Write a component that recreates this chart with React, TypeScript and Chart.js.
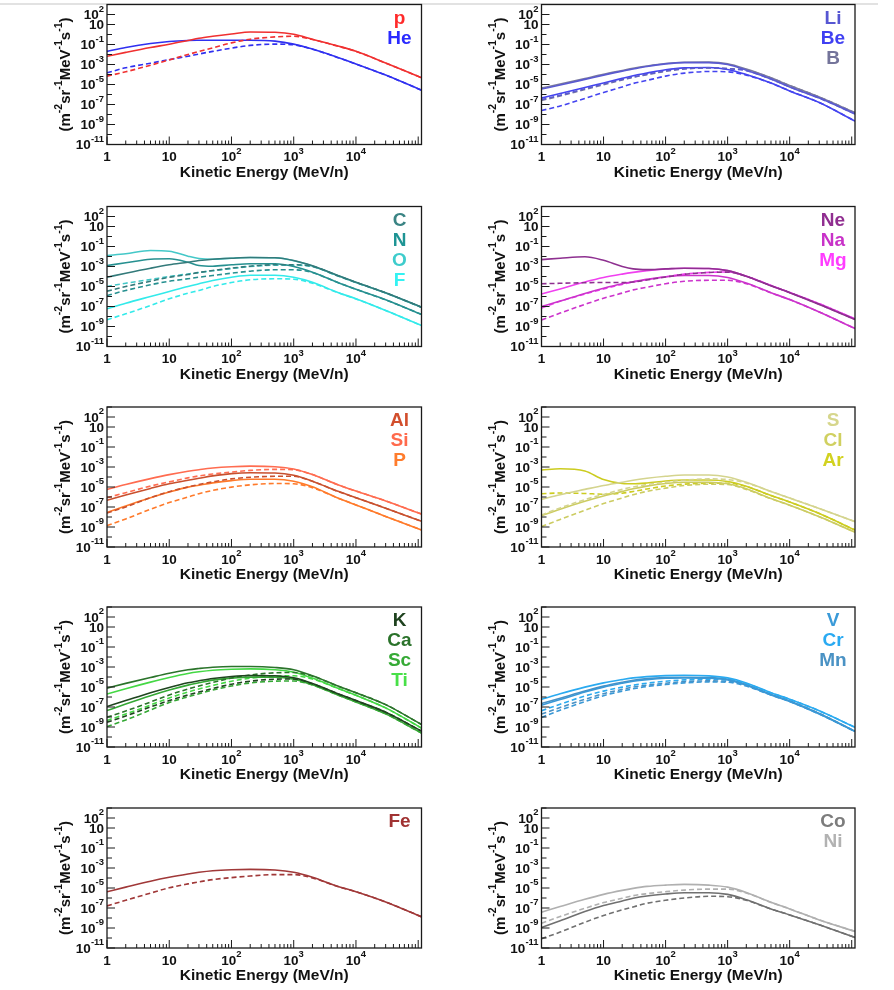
import React, { useEffect, useRef } from 'react';
import { Chart, registerables } from 'chart.js';
Chart.register(...registerables);

// Kinetic energy grid (MeV/n)
const energies = [1, 2, 5, 10, 20, 30, 50, 100, 200, 500, 1000, 2000, 5000, 10000, 30000, 113000];

// All flux values are log10 of (m^-2 sr^-1 MeV^-1 s^-1).
// Panel 1: p, He
const pSolid = [-2.18, -1.79, -1.3, -0.97, -0.6, -0.38, -0.18, 0.05, 0.25, 0.22, 0.03, -0.47, -1.13, -1.68, -2.85, -4.32];
const pDashed = [-4.16, -3.73, -3.07, -2.54, -2.0, -1.7, -1.34, -0.84, -0.47, -0.24, -0.17, -0.5, -1.15, -1.69, -2.85, -4.32];
const heSolid = [-1.69, -1.3, -0.9, -0.7, -0.6, -0.58, -0.57, -0.57, -0.57, -0.66, -0.96, -1.46, -2.28, -2.94, -4.06, -5.57];
const heDashed = [-3.83, -3.33, -2.87, -2.51, -2.18, -1.95, -1.69, -1.36, -1.09, -0.96, -1.03, -1.47, -2.29, -2.95, -4.06, -5.57];
// Panel 2: Li, Be, B
const liSolid = [-5.45, -5.05, -4.49, -4.06, -3.66, -3.45, -3.2, -2.94, -2.81, -2.81, -3.0, -3.57, -4.45, -5.24, -6.36, -7.94];
const beSolid = [-6.36, -5.9, -5.3, -4.85, -4.39, -4.12, -3.86, -3.53, -3.34, -3.3, -3.5, -4.0, -4.85, -5.64, -6.8, -8.66];
const bSolid = [-5.35, -4.95, -4.4, -3.98, -3.6, -3.38, -3.15, -2.9, -2.78, -2.76, -2.92, -3.45, -4.33, -5.1, -6.25, -7.82];
const liDashed = [-6.5, -6.08, -5.43, -4.95, -4.5, -4.25, -3.98, -3.64, -3.42, -3.33, -3.42, -3.62, -4.46, -5.24, -6.36, -7.94];
const beDashed = [-7.6, -7.15, -6.39, -5.8, -5.24, -4.9, -4.59, -4.16, -3.86, -3.7, -3.73, -4.06, -4.86, -5.64, -6.8, -8.66];
const bDashed = [-6.6, -6.15, -5.5, -5.02, -4.55, -4.28, -4.02, -3.68, -3.45, -3.35, -3.42, -3.55, -4.34, -5.1, -6.25, -7.82];
// Panel 3: C, N, O, F
const cSolid = [-4.07, -3.67, -3.17, -2.83, -2.57, -2.4, -2.27, -2.17, -2.1, -2.13, -2.4, -2.93, -3.87, -4.57, -5.63, -7.07];
const nSolid = [-2.9, -2.63, -2.27, -2.23, -2.57, -2.9, -2.97, -2.83, -2.73, -2.73, -3.0, -3.57, -4.57, -5.27, -6.33, -7.8];
const oSolid = [-1.9, -1.73, -1.4, -1.47, -1.97, -2.2, -2.27, -2.17, -2.1, -2.13, -2.42, -2.95, -3.89, -4.59, -5.64, -7.08];
const fSolid = [-7.23, -6.67, -6.0, -5.5, -5.0, -4.73, -4.4, -4.07, -3.87, -3.87, -4.07, -4.57, -5.57, -6.23, -7.4, -8.9];
const cDashed = [-5.47, -5.0, -4.47, -4.07, -3.8, -3.6, -3.4, -3.17, -2.97, -2.83, -2.83, -3.0, -3.9, -4.58, -5.63, -7.07];
const nDashed = [-5.9, -5.4, -4.83, -4.47, -4.23, -4.07, -3.9, -3.67, -3.47, -3.33, -3.33, -3.6, -4.58, -5.28, -6.33, -7.8];
const oDashed = [-5.0, -4.67, -4.3, -4.0, -3.75, -3.6, -3.42, -3.2, -3.0, -2.87, -2.87, -3.02, -3.92, -4.6, -5.64, -7.08];
const fDashed = [-8.33, -7.73, -6.9, -6.23, -5.67, -5.4, -5.0, -4.6, -4.33, -4.23, -4.27, -4.67, -5.6, -6.24, -7.4, -8.9];
// Panel 4: Ne, Na, Mg
const neSolid = [-2.31, -2.17, -2.03, -2.38, -3.0, -3.24, -3.31, -3.24, -3.17, -3.2, -3.41, -3.97, -4.93, -5.62, -6.79, -8.3];
const naSolid = [-7.0, -6.45, -5.69, -5.17, -4.72, -4.52, -4.28, -4.03, -3.9, -3.9, -4.1, -4.66, -5.62, -6.31, -7.55, -9.2];
const mgSolid = [-5.76, -5.24, -4.55, -4.1, -3.76, -3.59, -3.41, -3.24, -3.17, -3.2, -3.41, -3.97, -4.9, -5.59, -6.72, -8.24];
const neDashed = [-4.72, -4.68, -4.62, -4.6, -4.6, -4.55, -4.35, -4.05, -3.78, -3.6, -3.56, -3.98, -4.92, -5.6, -6.78, -8.28];
const naDashed = [-8.34, -7.66, -6.79, -6.17, -5.66, -5.34, -5.07, -4.72, -4.48, -4.38, -4.38, -4.72, -5.64, -6.31, -7.55, -9.2];
const mgDashed = [-7.14, -6.48, -5.76, -5.24, -4.79, -4.55, -4.31, -4.03, -3.76, -3.59, -3.55, -3.97, -4.9, -5.59, -6.72, -8.24];
// Panel 5: Al, Si, P
const alSolid = [-6.33, -5.8, -5.14, -4.68, -4.32, -4.13, -3.89, -3.66, -3.57, -3.6, -3.83, -4.42, -5.41, -6.07, -7.12, -8.43];
const siSolid = [-5.24, -4.75, -4.16, -3.76, -3.43, -3.27, -3.1, -2.97, -2.91, -2.97, -3.2, -3.76, -4.75, -5.41, -6.39, -7.71];
const phSolid = [-7.55, -6.89, -6.07, -5.51, -5.01, -4.82, -4.59, -4.36, -4.22, -4.22, -4.42, -4.98, -6.07, -6.79, -7.94, -9.29];
const alDashed = [-7.6, -7.0, -6.07, -5.47, -5.0, -4.75, -4.49, -4.19, -4.03, -3.93, -3.93, -4.43, -5.42, -6.07, -7.12, -8.43];
const siDashed = [-6.07, -5.57, -4.91, -4.49, -4.09, -3.89, -3.7, -3.5, -3.34, -3.24, -3.27, -3.76, -4.75, -5.41, -6.39, -7.71];
const phDashed = [-8.86, -8.2, -7.22, -6.56, -6.0, -5.67, -5.34, -5.01, -4.78, -4.65, -4.68, -5.07, -6.08, -6.79, -7.94, -9.29];
// Panel 6: S, Cl, Ar
const sSolid = [-6.23, -5.77, -5.24, -4.85, -4.52, -4.32, -4.13, -3.93, -3.8, -3.8, -4.0, -4.52, -5.44, -6.1, -7.15, -8.47];
const clSolid = [-7.88, -7.22, -6.43, -5.9, -5.44, -5.18, -4.91, -4.65, -4.52, -4.52, -4.68, -5.18, -6.16, -6.82, -7.97, -9.52];
const arSolid = [-3.3, -3.17, -3.4, -4.25, -4.65, -4.68, -4.6, -4.4, -4.3, -4.3, -4.45, -4.92, -5.85, -6.5, -7.65, -9.3];
const sDashed = [-7.8, -7.09, -6.26, -5.74, -5.24, -5.0, -4.75, -4.52, -4.32, -4.19, -4.26, -4.59, -5.45, -6.1, -7.15, -8.47];
const clDashed = [-8.96, -8.24, -7.32, -6.66, -6.1, -5.77, -5.44, -5.11, -4.85, -4.72, -4.75, -5.24, -6.17, -6.82, -7.97, -9.52];
const arDashed = [-5.67, -5.6, -5.65, -5.72, -5.62, -5.45, -5.2, -4.9, -4.72, -4.62, -4.62, -4.95, -5.86, -6.5, -7.65, -9.3];
// Panel 7: K, Ca, Sc, Ti
const kSolid = [-6.96, -6.36, -5.57, -5.04, -4.58, -4.38, -4.15, -3.95, -3.85, -3.88, -4.08, -4.64, -5.64, -6.36, -7.52, -9.41];
const caSolid = [-5.11, -4.64, -4.05, -3.62, -3.28, -3.15, -3.02, -2.95, -2.95, -3.05, -3.28, -3.88, -4.87, -5.57, -6.76, -8.75];
const scSolid = [-7.36, -6.7, -5.87, -5.3, -4.81, -4.58, -4.31, -4.11, -4.01, -4.01, -4.21, -4.77, -5.77, -6.5, -7.69, -9.61];
const tiSolid = [-5.7, -5.17, -4.51, -4.05, -3.65, -3.48, -3.32, -3.22, -3.19, -3.28, -3.52, -4.11, -5.11, -5.83, -7.09, -9.11];
const kDashed = [-8.52, -7.9, -7.0, -6.36, -5.8, -5.5, -5.15, -4.72, -4.42, -4.22, -4.2, -4.68, -5.65, -6.36, -7.52, -9.41];
const caDashed = [-8.02, -7.4, -6.5, -5.8, -5.2, -4.9, -4.55, -4.1, -3.8, -3.58, -3.55, -3.92, -4.88, -5.57, -6.76, -8.75];
const scDashed = [-8.95, -8.3, -7.3, -6.55, -5.98, -5.67, -5.3, -4.9, -4.6, -4.42, -4.4, -4.8, -5.78, -6.5, -7.69, -9.61];
const tiDashed = [-8.35, -7.7, -6.8, -6.1, -5.5, -5.2, -4.85, -4.42, -4.12, -3.9, -3.88, -4.2, -5.12, -5.83, -7.09, -9.11];
// Panel 8: V, Cr, Mn
const vSolid = [-6.82, -6.26, -5.5, -5.01, -4.62, -4.42, -4.26, -4.12, -4.09, -4.12, -4.29, -4.82, -5.8, -6.46, -7.71, -9.45];
const crSolid = [-6.23, -5.67, -5.01, -4.59, -4.26, -4.09, -3.96, -3.86, -3.83, -3.89, -4.09, -4.59, -5.57, -6.23, -7.38, -9.03];
const mnSolid = [-6.66, -6.13, -5.41, -4.91, -4.52, -4.32, -4.16, -4.06, -4.03, -4.06, -4.22, -4.75, -5.74, -6.39, -7.64, -9.42];
const vDashed = [-8.04, -7.32, -6.46, -5.87, -5.41, -5.18, -4.95, -4.75, -4.59, -4.49, -4.52, -4.91, -5.81, -6.46, -7.71, -9.45];
const crDashed = [-7.38, -6.72, -5.9, -5.41, -5.01, -4.82, -4.62, -4.42, -4.29, -4.22, -4.29, -4.68, -5.58, -6.23, -7.38, -9.03];
const mnDashed = [-7.71, -7.05, -6.23, -5.67, -5.24, -5.01, -4.82, -4.62, -4.45, -4.39, -4.42, -4.82, -5.75, -6.39, -7.64, -9.42];
// Panel 9: Fe
const feSolid = [-5.37, -4.91, -4.32, -3.93, -3.6, -3.43, -3.27, -3.17, -3.14, -3.2, -3.43, -3.93, -4.82, -5.37, -6.39, -7.88];
const feDashed = [-6.79, -6.23, -5.51, -4.98, -4.59, -4.39, -4.16, -3.96, -3.8, -3.66, -3.66, -3.99, -4.83, -5.38, -6.39, -7.88];
// Panel 10: Co, Ni
const coSolid = [-8.95, -8.28, -7.36, -6.76, -6.3, -6.03, -5.8, -5.6, -5.47, -5.47, -5.64, -6.17, -7.09, -7.69, -8.68, -9.94];
const niSolid = [-7.42, -6.86, -6.13, -5.64, -5.24, -5.04, -4.84, -4.71, -4.64, -4.71, -4.91, -5.44, -6.43, -7.09, -8.19, -9.34];
const coDashed = [-10.07, -9.41, -8.42, -7.75, -7.19, -6.89, -6.53, -6.23, -6.0, -5.83, -5.87, -6.23, -7.1, -7.69, -8.68, -9.94];
const niDashed = [-8.52, -7.85, -7.03, -6.46, -6.03, -5.77, -5.57, -5.37, -5.21, -5.11, -5.11, -5.5, -6.44, -7.09, -8.19, -9.34];

// Axis tick labels
const xTickExps = [0, 1, 2, 3, 4];
const xTickText = [['1', ''], ['10', ''], ['10', '2'], ['10', '3'], ['10', '4']];
const yTickExps = [2, 1, -1, -3, -5, -7, -9, -11];
const yTickText = [['10', '2'], ['10', ''], ['10', '-1'], ['10', '-3'], ['10', '-5'], ['10', '-7'], ['10', '-9'], ['10', '-11']];
const xTitle = 'Kinetic Energy (MeV/n)';
const yTitleParts: [string, boolean][] = [['(m', false], ['-2', true], ['sr', false], ['-1', true], ['MeV', false], ['-1', true], ['s', false], ['-1', true], [')', false]];

const X_MIN = 1;
const X_MAX = 113000;
const Y_MIN = 1e-11;
const Y_MAX = 1e3;

const FONT = '"Liberation Sans", Arial, Helvetica, sans-serif';
const W = 894;
const H = 990;
const COL_L = [107, 541.5];
const COL_R = [421.5, 855];
const ROW_T = [4.5, 206.5, 407, 607, 808];
const PH = 140;

type Series = { v: number[]; c: string; d: boolean };
type Panel = { col: number; row: number; labels: [string, string][]; series: Series[] };

const panels: Panel[] = [
  {
    col: 0, row: 0, labels: [['p', '#ff2a2a'], ['He', '#2a2aff']],
    series: [
      { v: pSolid, c: '#f03030', d: false }, { v: pDashed, c: '#f03030', d: true },
      { v: heSolid, c: '#3030f0', d: false }, { v: heDashed, c: '#3030f0', d: true },
    ],
  },
  {
    col: 1, row: 0, labels: [['Li', '#5656d2'], ['Be', '#4040f2'], ['B', '#74749a']],
    series: [
      { v: liSolid, c: '#5a5ad0', d: false }, { v: liDashed, c: '#5a5ad0', d: true },
      { v: beSolid, c: '#4444f0', d: false }, { v: beDashed, c: '#4444f0', d: true },
      { v: bSolid, c: '#7a7a9c', d: false }, { v: bDashed, c: '#7a7a9c', d: true },
    ],
  },
  {
    col: 0, row: 1, labels: [['C', '#3a8484'], ['N', '#1e9494'], ['O', '#3ecccc'], ['F', '#33f2f2']],
    series: [
      { v: cSolid, c: '#337a7a', d: false }, { v: cDashed, c: '#337a7a', d: true },
      { v: nSolid, c: '#269090', d: false }, { v: nDashed, c: '#269090', d: true },
      { v: oSolid, c: '#44c8c8', d: false }, { v: oDashed, c: '#44c8c8', d: true },
      { v: fSolid, c: '#33eaea', d: false }, { v: fDashed, c: '#33eaea', d: true },
    ],
  },
  {
    col: 1, row: 1, labels: [['Ne', '#902e90'], ['Na', '#c832c8'], ['Mg', '#ff3cff']],
    series: [
      { v: neSolid, c: '#8e3090', d: false }, { v: neDashed, c: '#8e3090', d: true },
      { v: naSolid, c: '#cc33cc', d: false }, { v: naDashed, c: '#cc33cc', d: true },
      { v: mgSolid, c: '#f040f0', d: false }, { v: mgDashed, c: '#f040f0', d: true },
    ],
  },
  {
    col: 0, row: 2, labels: [['Al', '#d24e2c'], ['Si', '#ff6a4c'], ['P', '#ff7c2c']],
    series: [
      { v: alSolid, c: '#c8502e', d: false }, { v: alDashed, c: '#c8502e', d: true },
      { v: siSolid, c: '#ff6c50', d: false }, { v: siDashed, c: '#ff6c50', d: true },
      { v: phSolid, c: '#ff7a2a', d: false }, { v: phDashed, c: '#ff7a2a', d: true },
    ],
  },
  {
    col: 1, row: 2, labels: [['S', '#d6d68c'], ['Cl', '#d0d060'], ['Ar', '#d2d220']],
    series: [
      { v: sSolid, c: '#d4d48e', d: false }, { v: sDashed, c: '#d4d48e', d: true },
      { v: clSolid, c: '#cccc62', d: false }, { v: clDashed, c: '#cccc62', d: true },
      { v: arSolid, c: '#cccc20', d: false }, { v: arDashed, c: '#cccc20', d: true },
    ],
  },
  {
    col: 0, row: 3, labels: [['K', '#1e421e'], ['Ca', '#2a722a'], ['Sc', '#36aa36'], ['Ti', '#48e048']],
    series: [
      { v: kSolid, c: '#1f451f', d: false }, { v: kDashed, c: '#1f451f', d: true },
      { v: caSolid, c: '#2b742b', d: false }, { v: caDashed, c: '#2b742b', d: true },
      { v: scSolid, c: '#34a834', d: false }, { v: scDashed, c: '#34a834', d: true },
      { v: tiSolid, c: '#44d844', d: false }, { v: tiDashed, c: '#44d844', d: true },
    ],
  },
  {
    col: 1, row: 3, labels: [['V', '#3a9ad8'], ['Cr', '#2aaaf2'], ['Mn', '#4a92c4']],
    series: [
      { v: vSolid, c: '#3a98d6', d: false }, { v: vDashed, c: '#3a98d6', d: true },
      { v: crSolid, c: '#2aaaf0', d: false }, { v: crDashed, c: '#2aaaf0', d: true },
      { v: mnSolid, c: '#4a90c2', d: false }, { v: mnDashed, c: '#4a90c2', d: true },
    ],
  },
  {
    col: 0, row: 4, labels: [['Fe', '#a03232']],
    series: [
      { v: feSolid, c: '#a03838', d: false }, { v: feDashed, c: '#a03838', d: true },
    ],
  },
  {
    col: 1, row: 4, labels: [['Co', '#7c7c7c'], ['Ni', '#b2b2b2']],
    series: [
      { v: coSolid, c: '#707070', d: false }, { v: coDashed, c: '#707070', d: true },
      { v: niSolid, c: '#b0b0b0', d: false }, { v: niDashed, c: '#b0b0b0', d: true },
    ],
  },
];

function drawPow(ctx: CanvasRenderingContext2D, base: string, exp: string, x: number, y: number, size: number, align: 'right' | 'center') {
  const es = size * 0.7;
  ctx.font = `bold ${size}px ${FONT}`;
  const wb = ctx.measureText(base).width;
  let we = 0;
  if (exp) {
    ctx.font = `bold ${es}px ${FONT}`;
    we = ctx.measureText(exp).width;
  }
  const total = wb + we;
  const x0 = align === 'right' ? x - total : x - total / 2;
  ctx.textAlign = 'left';
  ctx.textBaseline = 'middle';
  ctx.font = `bold ${size}px ${FONT}`;
  ctx.fillText(base, x0, y);
  if (exp) {
    ctx.font = `bold ${es}px ${FONT}`;
    ctx.fillText(exp, x0 + wb, y - size * 0.48);
  }
}

function makeDecor(labels: [string, string][]) {
  return {
    id: 'decor',
    afterDatasetsDraw(chart: any) {
      const ctx: CanvasRenderingContext2D = chart.ctx;
      const a = chart.chartArea;
      const xs = chart.scales.x;
      const ys = chart.scales.y;
      ctx.save();
      ctx.strokeStyle = '#1a1a1a';
      ctx.lineWidth = 1;
      ctx.setLineDash([]);
      // y ticks (inside)
      for (let k = -11; k <= 3; k++) {
        const py = ys.getPixelForValue(Math.pow(10, k));
        const len = yTickExps.includes(k) ? 8 : 5;
        ctx.beginPath();
        ctx.moveTo(a.left, py);
        ctx.lineTo(a.left + len, py);
        ctx.stroke();
      }
      // x ticks (inside)
      for (let d = 0; d <= 5; d++) {
        for (let m = 1; m <= 9; m++) {
          const v = m * Math.pow(10, d);
          if (v > xs.max) break;
          const px = xs.getPixelForValue(v);
          const len = m === 1 ? 8 : 4;
          ctx.beginPath();
          ctx.moveTo(px, a.bottom);
          ctx.lineTo(px, a.bottom - len);
          ctx.stroke();
        }
      }
      // frame
      ctx.lineWidth = 1.3;
      ctx.strokeRect(a.left, a.top, a.right - a.left, a.bottom - a.top);
      ctx.fillStyle = '#111';
      // y tick labels
      yTickExps.forEach((k, i) => {
        const py = ys.getPixelForValue(Math.pow(10, k));
        drawPow(ctx, yTickText[i][0], yTickText[i][1], a.left - 3, py + 1, 13.5, 'right');
      });
      // x tick labels
      xTickExps.forEach((k, i) => {
        const px = xs.getPixelForValue(Math.pow(10, k));
        drawPow(ctx, xTickText[i][0], xTickText[i][1], px, a.bottom + 13, 13.5, 'center');
      });
      // x title
      ctx.font = `bold 15.5px ${FONT}`;
      ctx.textAlign = 'center';
      ctx.textBaseline = 'middle';
      ctx.fillText(xTitle, (a.left + a.right) / 2, a.bottom + 28);
      // y title (rotated)
      const main = 15;
      const sup = 10.5;
      let total = 0;
      yTitleParts.forEach(([t, s]) => {
        ctx.font = `bold ${s ? sup : main}px ${FONT}`;
        total += ctx.measureText(t).width;
      });
      ctx.save();
      ctx.translate(a.left - 41, (a.top + a.bottom) / 2);
      ctx.rotate(-Math.PI / 2);
      ctx.textAlign = 'left';
      ctx.textBaseline = 'middle';
      let cx = -total / 2;
      yTitleParts.forEach(([t, s]) => {
        ctx.font = `bold ${s ? sup : main}px ${FONT}`;
        ctx.fillText(t, cx, s ? -7 : 0);
        cx += ctx.measureText(t).width;
      });
      ctx.restore();
      // element labels
      ctx.font = `bold 19px ${FONT}`;
      ctx.textAlign = 'center';
      ctx.textBaseline = 'middle';
      labels.forEach(([t, c], i) => {
        ctx.fillStyle = c;
        ctx.fillText(t, a.right - 22, a.top + 14 + 20 * i);
      });
      ctx.restore();
    },
  };
}

function PanelChart({ panel }: { panel: Panel }) {
  const ref = useRef<HTMLCanvasElement | null>(null);
  useEffect(() => {
    if (!ref.current) return;
    const left = COL_L[panel.col];
    const right = COL_R[panel.col];
    const top = ROW_T[panel.row];
    const bottom = top + PH;
    const chart = new Chart(ref.current, {
      type: 'line',
      data: {
        datasets: panel.series.map((s) => ({
          data: energies.map((e, i) => ({ x: e, y: Math.pow(10, s.v[i]) })),
          borderColor: s.c,
          backgroundColor: s.c,
          borderWidth: 1.6,
          borderDash: s.d ? [5, 3] : [],
          pointRadius: 0,
          fill: false,
          cubicInterpolationMode: 'monotone' as const,
        })),
      },
      options: {
        responsive: false,
        animation: false,
        events: [],
        layout: { padding: { left, top, right: W - right, bottom: H - bottom } },
        scales: {
          x: { type: 'logarithmic', min: X_MIN, max: X_MAX, display: false, bounds: 'data' },
          y: { type: 'logarithmic', min: Y_MIN, max: Y_MAX, display: false, bounds: 'data' },
        },
        plugins: { legend: { display: false }, tooltip: { enabled: false } },
      } as any,
      plugins: [makeDecor(panel.labels)],
    });
    return () => chart.destroy();
  }, [panel]);
  return (
    <canvas
      ref={ref}
      width={W}
      height={H}
      style={{ position: 'absolute', left: 0, top: 0, width: W, height: H }}
    />
  );
}

export default function App() {
  return (
    <div style={{ position: 'absolute', left: 0, top: 0, width: W, height: H, background: '#fff', overflow: 'hidden' }}>
      <div style={{ position: 'absolute', left: 0, top: 3, width: 878, height: 2, background: '#e2e2e2' }} />
      {panels.map((p, i) => (
        <PanelChart key={i} panel={p} />
      ))}
    </div>
  );
}
